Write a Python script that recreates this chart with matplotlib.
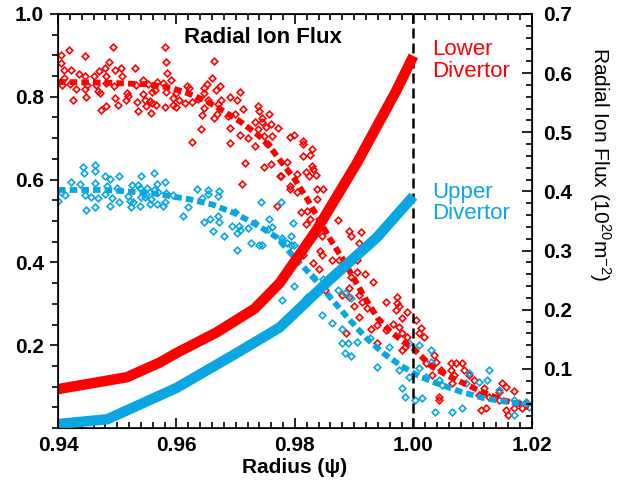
import matplotlib
matplotlib.use('Agg')
import matplotlib.pyplot as plt
from matplotlib.ticker import MultipleLocator

plt.rcParams['font.family'] = ['Liberation Sans', 'DejaVu Sans']
plt.rcParams['font.weight'] = 'bold'
plt.rcParams['mathtext.default'] = 'regular'

RED = '#ff0000'
BLUE = '#0aa6e2'

# scatter points (normalised, left axis)
red_pts = [
    (0.9405, 0.902), (0.9405, 0.882), (0.9419, 0.912), (0.9446, 0.899), (0.9493, 0.921),
    (0.9580, 0.919), (0.9582, 0.885), (0.9486, 0.885), (0.9410, 0.865), (0.9422, 0.865),
    (0.9435, 0.856), (0.9446, 0.851), (0.9469, 0.861), (0.9479, 0.870), (0.9496, 0.865),
    (0.9506, 0.870), (0.9530, 0.870), (0.9584, 0.858), (0.9590, 0.841), (0.9410, 0.846),
    (0.9461, 0.851), (0.9481, 0.849), (0.9508, 0.849), (0.9543, 0.841), (0.9567, 0.836),
    (0.9577, 0.834), (0.9407, 0.829), (0.9420, 0.831), (0.9430, 0.819), (0.9449, 0.829),
    (0.9464, 0.829), (0.9481, 0.834), (0.9494, 0.827), (0.9531, 0.829), (0.9552, 0.831),
    (0.9563, 0.817), (0.9446, 0.819), (0.9467, 0.815), (0.9471, 0.810), (0.9447, 0.800),
    (0.9516, 0.810), (0.9518, 0.802), (0.9543, 0.807), (0.9558, 0.812), (0.9582, 0.812),
    (0.9594, 0.798), (0.9425, 0.793), (0.9496, 0.798), (0.9515, 0.793), (0.9533, 0.788),
    (0.9547, 0.793), (0.9555, 0.790), (0.9558, 0.785), (0.9594, 0.781), (0.9472, 0.768),
    (0.9481, 0.778), (0.9501, 0.781), (0.9548, 0.778), (0.9565, 0.781), (0.9580, 0.776),
    (0.9535, 0.766), (0.9557, 0.761),
    (0.9663, 0.887), (0.9660, 0.846), (0.9617, 0.827), (0.9622, 0.822), (0.9651, 0.831),
    (0.9646, 0.822), (0.9673, 0.827), (0.9666, 0.817), (0.9708, 0.812), (0.9600, 0.810),
    (0.9604, 0.793), (0.9614, 0.785), (0.9626, 0.788), (0.9636, 0.795), (0.9646, 0.810),
    (0.9653, 0.793), (0.9690, 0.800), (0.9702, 0.793), (0.9676, 0.793), (0.9600, 0.776),
    (0.9646, 0.773), (0.9670, 0.783), (0.9713, 0.771), (0.9737, 0.778), (0.9643, 0.756),
    (0.9668, 0.759), (0.9663, 0.749), (0.9687, 0.754), (0.9698, 0.759), (0.9740, 0.766),
    (0.9757, 0.759), (0.9745, 0.749), (0.9733, 0.739), (0.9745, 0.739), (0.9760, 0.735),
    (0.9771, 0.725), (0.9752, 0.727), (0.9737, 0.722), (0.9641, 0.722), (0.9691, 0.725),
    (0.9708, 0.708), (0.9720, 0.701), (0.9747, 0.706), (0.9762, 0.706), (0.9627, 0.691),
    (0.9733, 0.681), (0.9754, 0.686), (0.9791, 0.703), (0.9715, 0.640), (0.9710, 0.589),
    (0.9747, 0.630), (0.9759, 0.638), (0.9769, 0.536), (0.9777, 0.608), (0.9791, 0.577),
    (0.9690, 0.689), (0.9820, 0.524),
    (0.9798, 0.708), (0.9814, 0.693), (0.9813, 0.686), (0.9828, 0.674), (0.9813, 0.657),
    (0.9825, 0.659), (0.9786, 0.642), (0.9774, 0.608), (0.9804, 0.613), (0.9819, 0.618),
    (0.9828, 0.633), (0.9831, 0.625), (0.9823, 0.608), (0.9835, 0.611), (0.9791, 0.584),
    (0.9804, 0.570), (0.9838, 0.577), (0.9847, 0.577), (0.9837, 0.553), (0.9811, 0.521),
    (0.9826, 0.504), (0.9819, 0.492), (0.9873, 0.502), (0.9845, 0.465), (0.9892, 0.475),
    (0.9895, 0.463), (0.9912, 0.473),
    (0.9909, 0.448), (0.9842, 0.427), (0.9845, 0.419), (0.9813, 0.419), (0.9862, 0.405),
    (0.9875, 0.405), (0.9904, 0.407), (0.9830, 0.398), (0.9840, 0.385), (0.9905, 0.378),
    (0.9919, 0.373), (0.9931, 0.354), (0.9895, 0.366), (0.9850, 0.334), (0.9892, 0.339),
    (0.9880, 0.322), (0.9892, 0.317), (0.9909, 0.322), (0.9914, 0.305), (0.9900, 0.296),
    (0.9921, 0.291), (0.9954, 0.305), (0.9973, 0.317), (0.9973, 0.302), (0.9976, 0.295),
    (0.9971, 0.286), (0.9990, 0.281), (0.9909, 0.269), (0.9929, 0.240), (0.9887, 0.230),
    (0.9938, 0.248), (0.9954, 0.238), (0.9965, 0.252), (0.9976, 0.245), (0.9981, 0.230),
    (0.9985, 0.196), (0.9990, 0.221), (0.9938, 0.206),
    (1.0005, 0.262), (1.0013, 0.242), (1.0018, 0.221), (1.0010, 0.230), (0.9981, 0.267),
    (1.0035, 0.177), (1.0039, 0.160), (1.0064, 0.158), (1.0072, 0.158), (1.0082, 0.158),
    (1.0064, 0.141), (1.0086, 0.141), (1.0069, 0.128), (1.0047, 0.141), (1.0094, 0.128),
    (1.0103, 0.116), (1.0032, 0.128), (1.0119, 0.097), (1.0150, 0.109), (1.0157, 0.099),
    (1.0170, 0.090), (1.0145, 0.087), (1.0044, 0.075), (1.0044, 0.068), (1.0111, 0.080),
    (1.0128, 0.075), (1.0145, 0.068), (1.0114, 0.044), (1.0123, 0.048), (1.0157, 0.044),
    (1.0159, 0.032), (1.0170, 0.048), (1.0184, 0.048), (1.0192, 0.061), (1.0066, 0.109),
    (1.0022, 0.158), (0.9980, 0.189),
]

blue_pts = [
    (0.9442, 0.630), (0.9444, 0.616), (0.9462, 0.635), (0.9462, 0.621), (0.9422, 0.594),
    (0.9437, 0.589), (0.9479, 0.608), (0.9488, 0.601), (0.9503, 0.608), (0.9540, 0.608),
    (0.9562, 0.616), (0.9580, 0.594), (0.9567, 0.589), (0.9462, 0.592), (0.9483, 0.584),
    (0.9405, 0.570), (0.9412, 0.563), (0.9400, 0.548), (0.9446, 0.563), (0.9456, 0.558),
    (0.9467, 0.555), (0.9479, 0.565), (0.9499, 0.580), (0.9525, 0.587), (0.9535, 0.587),
    (0.9538, 0.580), (0.9550, 0.580), (0.9548, 0.565), (0.9562, 0.575), (0.9568, 0.570),
    (0.9582, 0.567), (0.9594, 0.563), (0.9491, 0.555), (0.9518, 0.560), (0.9540, 0.558),
    (0.9521, 0.548), (0.9526, 0.545), (0.9547, 0.558), (0.9557, 0.553), (0.9580, 0.545),
    (0.9567, 0.541), (0.9447, 0.526), (0.9462, 0.533), (0.9488, 0.536), (0.9503, 0.545),
    (0.9523, 0.533), (0.9538, 0.536), (0.9555, 0.541), (0.9577, 0.536),
    (0.9634, 0.577), (0.9653, 0.575), (0.9654, 0.565), (0.9671, 0.572), (0.9670, 0.560),
    (0.9643, 0.555), (0.9619, 0.533), (0.9611, 0.512), (0.9742, 0.545), (0.9777, 0.545),
    (0.9646, 0.497), (0.9656, 0.504), (0.9670, 0.512), (0.9671, 0.497), (0.9661, 0.475),
    (0.9681, 0.465), (0.9693, 0.487), (0.9698, 0.521), (0.9705, 0.487), (0.9707, 0.478),
    (0.9703, 0.470), (0.9720, 0.482), (0.9732, 0.495), (0.9757, 0.504), (0.9761, 0.485),
    (0.9754, 0.480), (0.9725, 0.448), (0.9739, 0.441), (0.9745, 0.441), (0.9702, 0.431),
    (0.9779, 0.453), (0.9794, 0.463), (0.9794, 0.441),
    (0.9796, 0.495), (0.9779, 0.460), (0.9786, 0.448), (0.9798, 0.443), (0.9830, 0.366),
    (0.9798, 0.344), (0.9779, 0.310), (0.9847, 0.359), (0.9872, 0.334), (0.9884, 0.327),
    (0.9894, 0.315), (0.9821, 0.317), (0.9845, 0.274), (0.9862, 0.255), (0.9880, 0.240),
    (0.9880, 0.206), (0.9889, 0.206), (0.9904, 0.208), (0.9884, 0.182), (0.9895, 0.175),
    (0.9959, 0.196), (0.9926, 0.218), (0.9939, 0.148),
    (0.9993, 0.206), (1.0010, 0.201), (1.0030, 0.189), (1.0030, 0.160), (0.9976, 0.141),
    (1.0010, 0.145), (0.9980, 0.097), (0.9985, 0.075), (1.0002, 0.068), (1.0015, 0.073),
    (1.0037, 0.039), (1.0066, 0.039), (1.0082, 0.048), (1.0094, 0.133), (1.0111, 0.111),
    (1.0128, 0.141), (1.0125, 0.116), (1.0044, 0.116), (1.0049, 0.104), (1.0089, 0.109),
    (1.0145, 0.092), (1.0170, 0.068), (1.0170, 0.032), (1.0178, 0.061), (1.0190, 0.063),
    (1.0195, 0.051), (1.0022, 0.124), (0.9993, 0.124),
]

# smoothed profiles (dashed, left axis)
red_fit_x = [0.940, 0.948, 0.955, 0.959, 0.962, 0.965, 0.968, 0.971, 0.974, 0.976,
             0.978, 0.980, 0.982, 0.984, 0.986, 0.988, 0.990, 0.992, 0.994, 0.996,
             0.998, 1.000, 1.003, 1.006, 1.009, 1.012, 1.015, 1.018, 1.0195]
red_fit_y = [0.836, 0.834, 0.830, 0.822, 0.808, 0.790, 0.765, 0.738, 0.705, 0.675,
             0.637, 0.600, 0.555, 0.505, 0.455, 0.410, 0.360, 0.310, 0.265, 0.235,
             0.212, 0.192, 0.150, 0.125, 0.105, 0.085, 0.068, 0.058, 0.050]
blue_fit_x = [0.940, 0.948, 0.956, 0.962, 0.966, 0.970, 0.974, 0.977, 0.980, 0.983,
              0.986, 0.989, 0.992, 0.995, 0.998, 1.001, 1.004, 1.008, 1.012, 1.016, 1.0195]
blue_fit_y = [0.575, 0.575, 0.567, 0.553, 0.540, 0.518, 0.487, 0.460, 0.410, 0.366,
              0.315, 0.265, 0.218, 0.180, 0.150, 0.125, 0.108, 0.088, 0.072, 0.063, 0.057]

# radial ion flux (10^20 m^-2, right axis)
lower_x = [0.940, 0.9516, 0.9572, 0.960, 0.9668, 0.9732, 0.9774, 0.9836, 0.9904, 0.9971, 1.000]
lower_flux = [0.066, 0.086, 0.111, 0.127, 0.162, 0.202, 0.245, 0.334, 0.447, 0.570, 0.629]
upper_x = [0.940, 0.9483, 0.960, 0.9695, 0.9774, 0.9858, 0.9938, 1.000]
upper_flux = [0.007, 0.015, 0.068, 0.123, 0.170, 0.250, 0.322, 0.392]

fig = plt.figure(figsize=(6.17, 4.8), dpi=100)
ax = fig.add_axes([0.094, 0.108, 0.768, 0.863])

ax.plot([p[0] for p in red_pts], [p[1] for p in red_pts], 'D', ms=3.4, mfc='none',
        mec=RED, mew=1.2)
ax.plot([p[0] for p in blue_pts], [p[1] for p in blue_pts], 'D', ms=3.4, mfc='none',
        mec=BLUE, mew=1.2)
ax.plot(red_fit_x, red_fit_y, color=RED, lw=4.2, ls=(0, (1.3, 0.7)))
ax.plot(blue_fit_x, blue_fit_y, color=BLUE, lw=4.2, ls=(0, (1.3, 0.7)))
ax.axvline(1.0, color='black', lw=1.8, ls=(0, (4, 2)))

ax.set_xlim(0.94, 1.02)
ax.set_ylim(0, 1.0)
ax.set_xticks([0.94, 0.96, 0.98, 1.00, 1.02])
ax.set_xticklabels(['0.94', '0.96', '0.98', '1.00', '1.02'])
ax.set_yticks([0.2, 0.4, 0.6, 0.8, 1.0])
ax.set_yticklabels(['0.2', '0.4', '0.6', '0.8', '1.0'])
ax.xaxis.set_minor_locator(MultipleLocator(0.002))
ax.yaxis.set_minor_locator(MultipleLocator(0.05))
ax.tick_params(axis='x', which='both', direction='in', top=True, labelsize=15, pad=6, width=1.2)
ax.tick_params(axis='x', which='major', length=7)
ax.tick_params(axis='x', which='minor', length=4)
ax.tick_params(axis='y', which='both', direction='out', labelsize=15, pad=4, width=1.2)
ax.tick_params(axis='y', which='major', length=6)
ax.tick_params(axis='y', which='minor', length=4)
for s in ax.spines.values():
    s.set_linewidth(1.2)
ax.set_xlabel('Radius (ψ)', fontsize=15, fontweight='bold', labelpad=2)

ax2 = ax.twinx()
ax2.plot(lower_x, lower_flux, color=RED, lw=7.5, solid_capstyle='butt')
ax2.plot(upper_x, upper_flux, color=BLUE, lw=7.5, solid_capstyle='butt')
ax2.set_ylim(0, 0.7)
ax2.set_yticks([0.1, 0.2, 0.3, 0.4, 0.5, 0.6, 0.7])
ax2.yaxis.set_minor_locator(MultipleLocator(0.02))
ax2.tick_params(axis='y', which='both', direction='in', labelsize=15, pad=8, width=1.2)
ax2.tick_params(axis='y', which='major', length=7)
ax2.tick_params(axis='y', which='minor', length=4)

ax.text(0.432, 0.942, 'Radial Ion Flux', transform=ax.transAxes, fontsize=16,
        ha='center', va='center')
ax.text(0.789, 0.94, 'Lower\nDivertor', transform=ax.transAxes, fontsize=16,
        fontweight='normal', color=RED, ha='left', va='top', linespacing=1.05)
ax.text(0.789, 0.595, 'Upper\nDivertor', transform=ax.transAxes, fontsize=16,
        fontweight='normal', color=BLUE, ha='left', va='top', linespacing=1.05)
fig.text(600 / 617, 1 - 164 / 480, 'Radial Ion Flux (10$^{20}$m$^{-2}$)', rotation=270,
         ha='center', va='center', fontsize=15, fontweight='normal')

fig.savefig('out.png', dpi=100)
